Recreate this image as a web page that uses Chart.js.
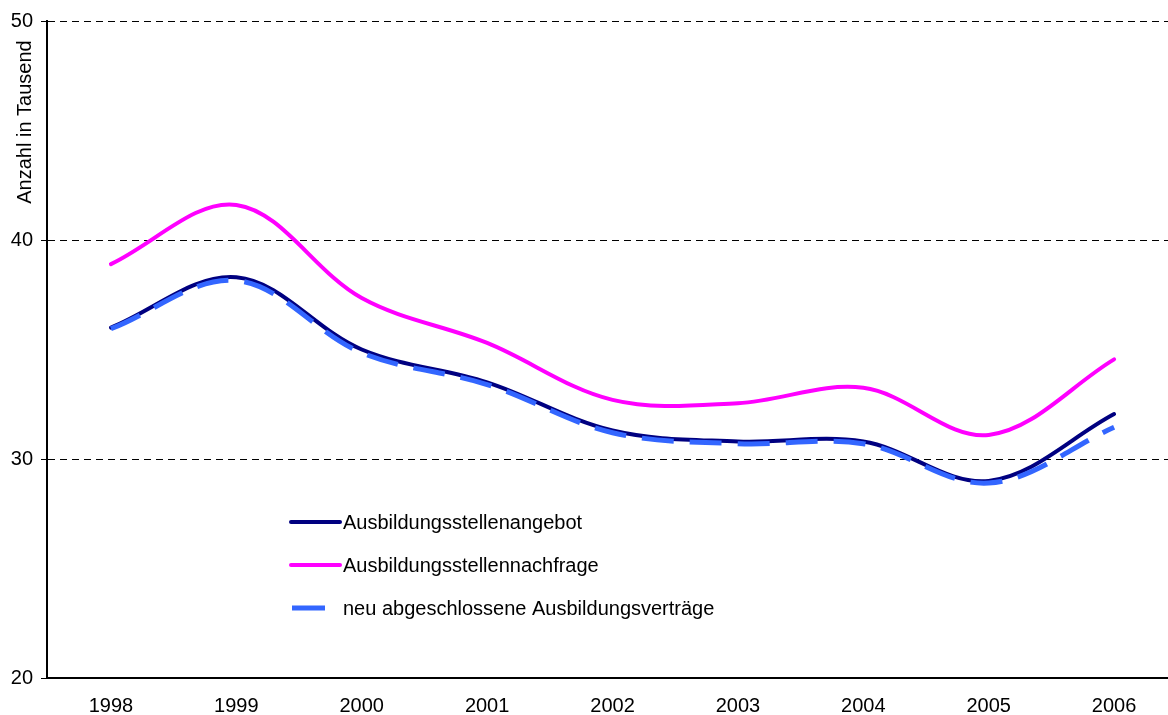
<!DOCTYPE html>
<html>
<head>
<meta charset="utf-8">
<script src="https://cdn.jsdelivr.net/npm/chart.js@4"></script>
<style>
  html, body { margin: 0; padding: 0; background: #fff; overflow: hidden; }
  #wrap { width: 1168px; height: 715px; position: relative; }
</style>
</head>
<body>
<div id="wrap"><canvas id="c" width="1168" height="715"></canvas></div>
<script>
const years = [1998, 1999, 2000, 2001, 2002, 2003, 2004, 2005, 2006];
const angebot   = [36.0, 38.3, 35.0, 33.5, 31.3, 30.8, 30.8, 29.0, 32.05];
const nachfrage = [38.9, 41.6, 37.35, 35.3, 32.7, 32.55, 33.25, 31.1, 34.55];
const vertraege = [35.95, 38.15, 34.85, 33.4, 31.2, 30.7, 30.7, 28.9, 31.45];
const yTicks = [20, 30, 40, 50];
const seriesNames = ['Ausbildungsstellenangebot', 'Ausbildungsstellennachfrage', 'neu abgeschlossene Ausbildungsverträge'];
const yTitle = 'Anzahl in Tausend';

const FONT = '"Liberation Sans", Arial, sans-serif';
const FS = 20;

const toXY = arr => arr.map((v, i) => ({ x: years[i], y: v }));

const legendPlugin = {
  id: 'customLegend',
  afterDraw(chart) {
    const ctx = chart.ctx;
    ctx.save();
    ctx.font = FS + 'px ' + FONT;
    ctx.fillStyle = '#000';
    ctx.textBaseline = 'middle';
    ctx.textAlign = 'left';
    const rows = [
      { y: 522, color: '#000080', w: 4, x1: 291, x2: 340 },
      { y: 565, color: '#FF00FF', w: 4, x1: 291, x2: 340 },
      { y: 608, color: '#3366FF', w: 5, x1: 292, x2: 325 }
    ];
    rows.forEach((r, i) => {
      ctx.beginPath();
      ctx.strokeStyle = r.color;
      ctx.lineWidth = r.w;
      ctx.lineCap = i < 2 ? 'round' : 'butt';
      ctx.setLineDash([]);
      ctx.moveTo(r.x1, r.y);
      ctx.lineTo(r.x2, r.y);
      ctx.stroke();
      ctx.fillText(seriesNames[i], 343, r.y + 1);
    });
    // y axis title
    ctx.translate(25, 122);
    ctx.rotate(-Math.PI / 2);
    ctx.textAlign = 'center';
    ctx.fillText(yTitle, 0, 0);
    ctx.restore();
  }
};

new Chart(document.getElementById('c'), {
  type: 'line',
  data: {
    datasets: [
      {
        label: seriesNames[0],
        data: toXY(angebot),
        borderColor: '#000080',
        borderWidth: 4,
        borderCapStyle: 'round',
        pointRadius: 0,
        tension: 0.35,
        fill: false,
        order: 2
      },
      {
        label: seriesNames[1],
        data: toXY(nachfrage),
        borderColor: '#FF00FF',
        borderWidth: 4,
        borderCapStyle: 'round',
        pointRadius: 0,
        tension: 0.35,
        fill: false,
        order: 3
      },
      {
        label: seriesNames[2],
        data: toXY(vertraege),
        borderColor: '#3366FF',
        borderWidth: 5,
        borderDash: [32, 16],
        pointRadius: 0,
        tension: 0.35,
        fill: false,
        order: 1
      }
    ]
  },
  options: {
    responsive: false,
    animation: false,
    events: [],
    layout: { padding: { top: 21, right: 0, left: 0, bottom: 0 } },
    plugins: {
      legend: { display: false },
      tooltip: { enabled: false },
      title: { display: false }
    },
    scales: {
      x: {
        type: 'linear',
        min: 1997.49,
        max: 2006.43,
        afterBuildTicks: s => { s.ticks = years.map(v => ({ value: v })); },
        afterFit: s => { s.height = 37; },
        ticks: {
          color: '#000',
          font: { family: FONT, size: FS },
          padding: 16,
          maxRotation: 0,
          autoSkip: false,
          callback: v => String(v)
        },
        grid: { display: false, drawTicks: false },
        border: { display: true, color: '#000', width: 2 }
      },
      y: {
        min: 20,
        max: 50,
        afterBuildTicks: s => { s.ticks = yTicks.map(v => ({ value: v })); },
        afterFit: s => { s.width = 47; },
        ticks: {
          color: '#000',
          font: { family: FONT, size: FS },
          padding: 8,
          callback: v => String(v)
        },
        grid: {
          color: '#000',
          lineWidth: 1,
          drawTicks: true,
          tickLength: 6,
          tickColor: '#000',
          tickBorderDash: []
        },
        border: { display: true, color: '#000', width: 2, dash: [7, 5] }
      }
    }
  },
  plugins: [legendPlugin]
});
</script>
</body>
</html>
